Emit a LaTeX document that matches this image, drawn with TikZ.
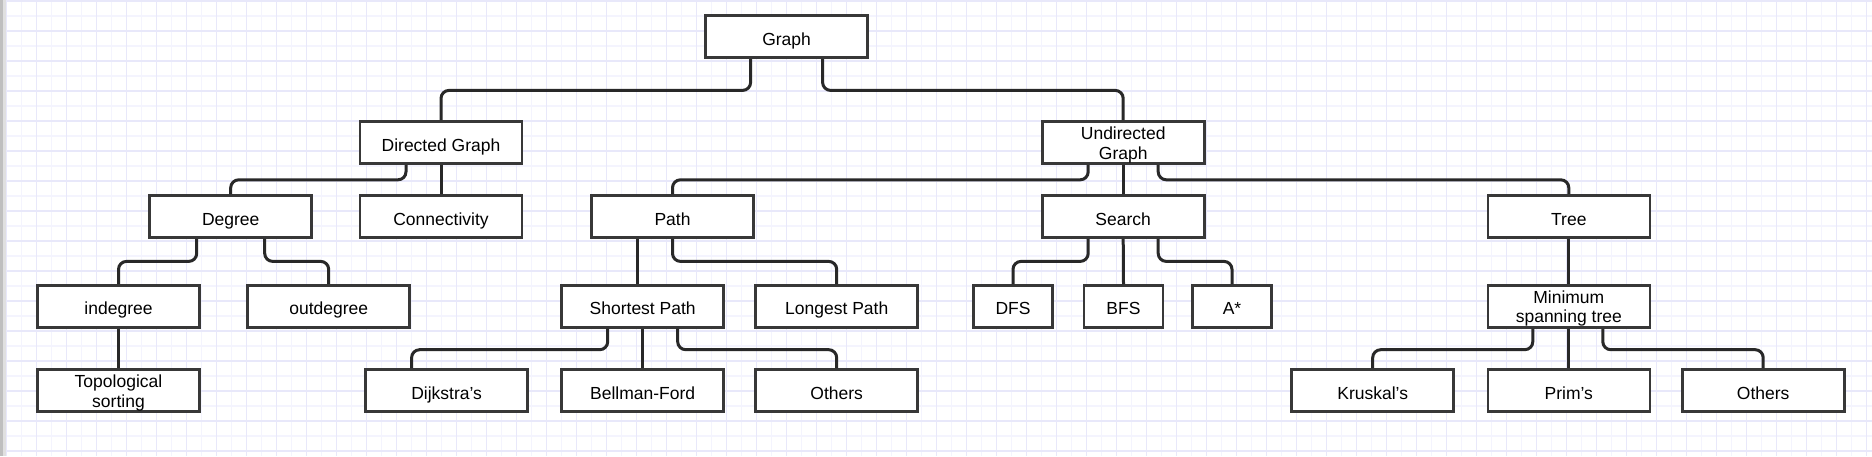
\documentclass[tikz,border=0pt]{standalone}
\usepackage{fontspec}
\setmainfont{Liberation Sans}
\usetikzlibrary{calc}
\definecolor{gridminor}{HTML}{F4F4FE}
\definecolor{gridmajor}{HTML}{E8E8FA}
\definecolor{boxline}{HTML}{383838}
\definecolor{edgeline}{HTML}{282828}

\begin{document}
\begin{tikzpicture}[x=1pt, y=-1pt,
    box/.style={draw=boxline, line width=2.6pt, fill=white, minimum width=162pt, minimum height=42pt, inner sep=2pt, text height=17pt, text depth=0pt, font=\fontsize{17.5}{19.5}\selectfont},
    twoline/.style={box, align=center, text height=33pt},
    smallbox/.style={box, minimum width=79pt},
    link/.style={draw=edgeline, line width=3pt, rounded corners=8pt}]

  % paper
  \useasboundingbox (0,0) rectangle (1872,456);
  \fill[white] (0,0) rectangle (1872,456);
  \foreach \x in {21.7,51.7,...,1872} \draw[gridminor, line width=1.2pt] (\x,0) -- (\x,456);
  \foreach \y in {16,46,...,456} \draw[gridminor, line width=1.2pt] (6,\y) -- (1872,\y);
  \foreach \x in {6.7,36.7,...,1872} \draw[gridmajor, line width=1.3pt] (\x,0) -- (\x,456);
  \foreach \y in {1,31,...,456} \draw[gridmajor, line width=1.3pt] (6,\y) -- (1872,\y);
  \fill[black!25] (0,0) rectangle (3,456);
  \fill[black!12] (3,0) rectangle (6,456);

  % boxes
  \node[box] (graph) at (786.6, 36.7) {Graph};

  \node[box] (dg) at (441, 142.5) {Directed Graph};
  \node[twoline] (ug) at (1123.2, 142.5) {Undirected\\Graph};

  \node[box] (degree) at (230.7, 216.5) {Degree};
  \node[box] (conn) at (441, 216.5) {Connectivity};
  \node[box] (path) at (672.5, 216.5) {Path};
  \node[box] (search) at (1123.2, 216.5) {Search};
  \node[box] (tree) at (1568.8, 216.5) {Tree};

  \node[box] (indeg) at (118.5, 306.4) {indegree};
  \node[box] (outdeg) at (328.7, 306.4) {outdegree};
  \node[box] (sp) at (642.7, 306.4) {Shortest Path};
  \node[box] (lp) at (836.7, 306.4) {Longest Path};
  \node[smallbox] (dfs) at (1013, 306.4) {DFS};
  \node[smallbox] (bfs) at (1123.5, 306.4) {BFS};
  \node[smallbox] (astar) at (1232, 306.4) {A*};
  \node[twoline] (mst) at (1568.8, 306.4) {Minimum\\spanning tree};

  \node[twoline] (topo) at (118.5, 390.5) {Topological\\sorting};
  \node[box] (dijk) at (446.6, 390.5) {Dijkstra’s};
  \node[box] (bf) at (642.7, 390.5) {Bellman-Ford};
  \node[box] (oth1) at (836.7, 390.5) {Others};
  \node[box] (krus) at (1372.7, 390.5) {Kruskal's};
  \node[box] (prim) at (1568.8, 390.5) {Prim's};
  \node[box] (oth2) at (1763.2, 390.5) {Others};

  % links
  \draw[link] ([xshift=-36pt]graph.south) -- ++(0,31.4) -| (dg.north);
  \draw[link] ([xshift=36pt]graph.south) -- ++(0,31.4) -| (ug.north);

  \draw[link] ([xshift=-35pt]dg.south) -- ++(0,15) -| (degree.north);
  \draw[link] (dg.south) -- (conn.north);
  \draw[link] ([xshift=-35pt]ug.south) -- ++(0,15) -| (path.north);
  \draw[link] (ug.south) -- (search.north);
  \draw[link] ([xshift=35pt]ug.south) -- ++(0,15) -| (tree.north);

  \draw[link] ([xshift=-34pt]degree.south) -- ++(0,22.6) -| (indeg.north);
  \draw[link] ([xshift=34pt]degree.south) -- ++(0,22.6) -| (outdeg.north);
  \draw[link] ([xshift=-35pt]path.south) -- ([xshift=-5.2pt]sp.north);
  \draw[link] (path.south) -- ++(0,22.6) -| (lp.north);
  \draw[link] ([xshift=-35pt]search.south) -- ++(0,22.6) -| (dfs.north);
  \draw[link] (search.south) -- (bfs.north);
  \draw[link] ([xshift=35pt]search.south) -- ++(0,22.6) -| (astar.north);
  \draw[link] (tree.south) -- (mst.north);

  \draw[link] (indeg.south) -- (topo.north);
  \draw[link] ([xshift=-35pt]sp.south) -- ++(0,21) -| ([xshift=-35pt]dijk.north);
  \draw[link] (sp.south) -- (bf.north);
  \draw[link] ([xshift=35pt]sp.south) -- ++(0,21) -| (oth1.north);
  \draw[link] ([xshift=-36pt]mst.south) -- ++(0,21) -| (krus.north);
  \draw[link] (mst.south) -- (prim.north);
  \draw[link] ([xshift=34pt]mst.south) -- ++(0,21) -| (oth2.north);
\end{tikzpicture}
\end{document}
